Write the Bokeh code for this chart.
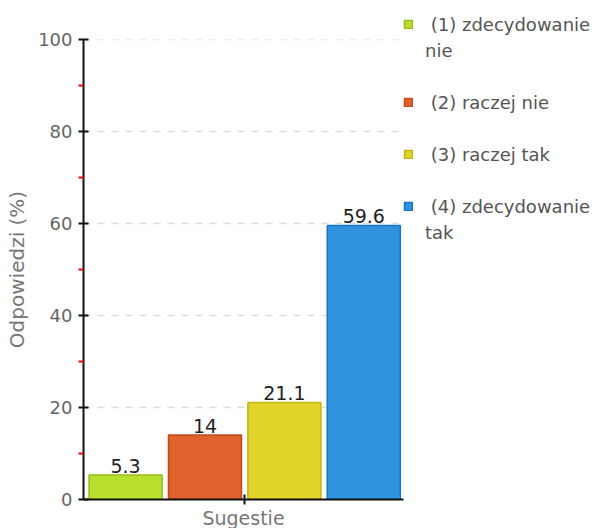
from bokeh.plotting import figure
from bokeh.models import ColumnDataSource, LabelSet, Range1d, FixedTicker, Legend, LegendItem
from bokeh.core.properties import value
from bokeh.embed import file_html
from bokeh.resources import INLINE

categories = ["(1) zdecydowanie nie", "(2) raczej nie", "(3) raczej tak", "(4) zdecydowanie tak"]
legend_first_lines = [" (1) zdecydowanie", " (2) raczej nie", " (3) raczej tak", " (4) zdecydowanie"]
legend_second_lines = ["nie", "", "", "tak"]
values = [5.3, 14, 21.1, 59.6]
value_labels = ["5.3", "14", "21.1", "59.6"]
fill_colors = ["#b7df2c", "#e0622c", "#e0d42b", "#2f93de"]
line_colors = ["#98bd1a", "#c24c1a", "#c2b517", "#1b74c2"]
positions = [0.5, 1.5, 2.5, 3.5]
y_ticks = [0, 20, 40, 60, 80, 100]
y_minor = [10, 30, 50, 70, 90]

FONT = "DejaVu Sans"

src = ColumnDataSource(dict(x=positions, top=values, lab=value_labels,
                            fill=fill_colors, line=line_colors, cat=categories))

FRAME_H = 460
p = figure(frame_width=320, frame_height=FRAME_H, output_backend="svg", toolbar_location=None,
           x_range=Range1d(-0.03, 4.0), y_range=Range1d(0, 100.02),
           min_border_left=83, min_border_top=39, min_border_bottom=27, min_border_right=0)
p.outline_line_color = None
p.xgrid.grid_line_color = None
p.ygrid.grid_line_color = "#dddddd"
p.ygrid.grid_line_dash = "7 7"
p.ygrid.grid_line_width = 1.5

r = p.vbar(x="x", top="top", bottom=0, width=0.92, source=src,
           fill_color="fill", line_color="line", line_width=1.5)
blank = p.scatter([], [], fill_alpha=0, line_alpha=0)

labels = LabelSet(x="x", y="top", text="lab", source=src, y_offset=2,
                  text_align="center", text_baseline="bottom",
                  text_font=value(FONT), text_font_size="19px", text_color="#222222")
p.add_layout(labels)

# y axis
ya = p.yaxis[0]
ya.ticker = FixedTicker(ticks=y_ticks, minor_ticks=y_minor)
ya.axis_line_color = "#111111"
ya.axis_line_width = 2
ya.major_tick_line_color = "#111111"
ya.major_tick_line_width = 2
ya.major_tick_in = 5
ya.major_tick_out = 5
ya.minor_tick_line_color = "red"
ya.minor_tick_line_width = 2
ya.minor_tick_in = 0
ya.minor_tick_out = 5
ya.major_label_text_font = FONT
ya.major_label_text_font_size = "18px"
ya.major_label_text_color = "#666666"
ya.major_label_standoff = 6
ya.axis_label = "Odpowiedzi (%)"
ya.axis_label_text_font = FONT
ya.axis_label_text_font_size = "20px"
ya.axis_label_text_font_style = "normal"
ya.axis_label_text_color = "#777777"
ya.axis_label_standoff = 6

# x axis
xa = p.xaxis[0]
xa.ticker = FixedTicker(ticks=[2], minor_ticks=[])
xa.major_label_overrides = {2: ""}
xa.major_label_text_font_size = "1px"
xa.axis_line_color = "#111111"
xa.axis_line_width = 2
xa.major_tick_line_color = "#111111"
xa.major_tick_line_width = 2
xa.major_tick_in = 5
xa.major_tick_out = 5
xa.axis_label = "Sugestie"
xa.axis_label_text_font = FONT
xa.axis_label_text_font_size = "19px"
xa.axis_label_text_font_style = "normal"
xa.axis_label_text_color = "#777777"
xa.axis_label_standoff = 2
xa.major_label_standoff = 0

# legend: coloured entries, continuation lines and spacer rows
items = []
for i in range(4):
    items.append(LegendItem(label=legend_first_lines[i], renderers=[r], index=i))
    if legend_second_lines[i]:
        items.append(LegendItem(label=legend_second_lines[i], renderers=[blank]))
    if i < 3:
        items.append(LegendItem(label=" ", renderers=[blank]))
ITEM_H, GAP = 22, 4
n = len(items)
leg_h = n * ITEM_H + (n - 1) * GAP
LEG_ABOVE_FRAME = 27  # legend top sits this far above the plotting area
legend = Legend(items=items, location=(0, FRAME_H + LEG_ABOVE_FRAME - 1 - leg_h),
                orientation="vertical",
                label_text_font=FONT, label_text_font_size="18px", label_text_color="#555555",
                glyph_width=10, glyph_height=10, label_standoff=12, spacing=GAP,
                padding=0, margin=0, border_line_color=None, background_fill_alpha=0,
                label_height=ITEM_H)
p.add_layout(legend, "right")

open("out.html", "w").write(file_html(p, INLINE))
